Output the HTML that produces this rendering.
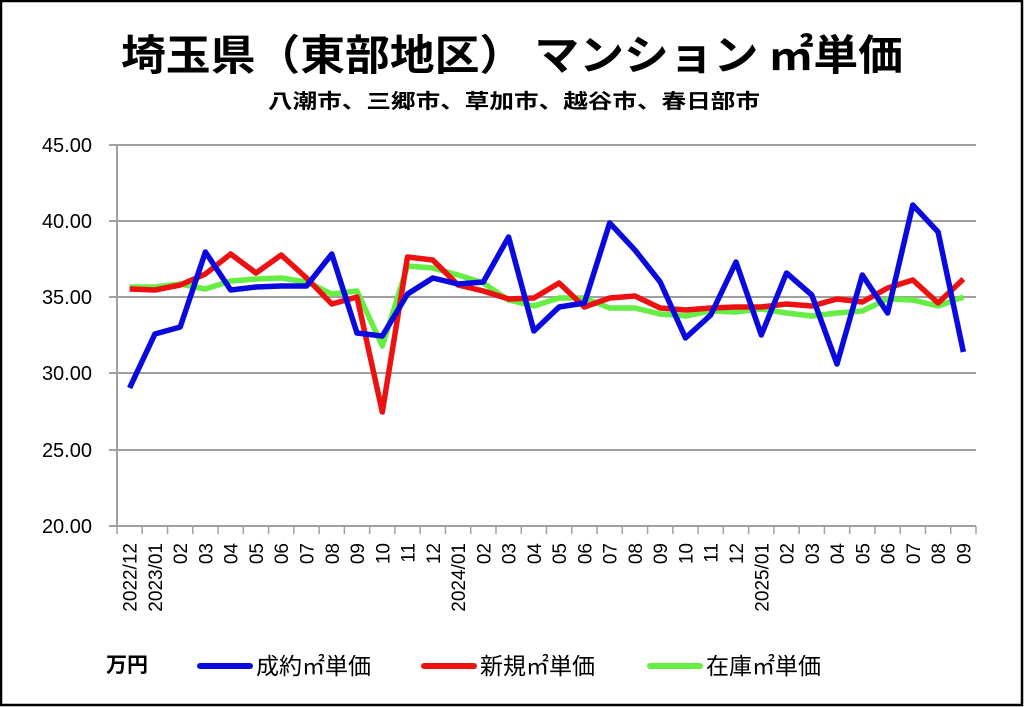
<!DOCTYPE html>
<html><head><meta charset="utf-8"><style>
html,body{margin:0;padding:0;background:#fff}
svg{display:block}
text{font-family:"Liberation Sans","Noto Sans CJK JP",sans-serif}
</style></head><body>
<svg width="1024" height="707" viewBox="0 0 1024 707" xmlns="http://www.w3.org/2000/svg">
<rect x="1" y="1" width="1021" height="704" fill="#fff" stroke="#000" stroke-width="2.5"/>
<text x="512" y="70" text-anchor="middle" font-size="42" font-weight="bold" style="font-family:'Noto Sans CJK JP',sans-serif" textLength="782" lengthAdjust="spacingAndGlyphs">埼玉県（東部地区） マンション ㎡単価</text>
<text x="514" y="108" text-anchor="middle" font-size="20" font-weight="bold" style="font-family:'Noto Sans CJK JP',sans-serif" textLength="492" lengthAdjust="spacingAndGlyphs">八潮市、三郷市、草加市、越谷市、春日部市</text>
<g stroke="#a0a0a0" stroke-width="2">
<line x1="109" y1="145" x2="976" y2="145"/>
<line x1="109" y1="221" x2="976" y2="221"/>
<line x1="109" y1="297" x2="976" y2="297"/>
<line x1="109" y1="373" x2="976" y2="373"/>
<line x1="109" y1="450" x2="976" y2="450"/>
<line x1="109" y1="526" x2="976" y2="526"/>
<line x1="117" y1="145" x2="117" y2="526"/>
</g>
<g font-size="20" text-anchor="end" fill="#000">
<text x="92" y="152">45.00</text>
<text x="92" y="228">40.00</text>
<text x="92" y="304">35.00</text>
<text x="92" y="380">30.00</text>
<text x="92" y="457">25.00</text>
<text x="92" y="533">20.00</text>
</g>
<g id="ticks" stroke="#a0a0a0" stroke-width="1.5"></g>
<g id="labels" font-size="19" fill="#000"></g>
<polyline id="g" fill="none" stroke="#66ee44" stroke-width="5.5" stroke-linejoin="round"/>
<polyline id="r" fill="none" stroke="#ee1111" stroke-width="5.5" stroke-linejoin="round"/>
<polyline id="b" fill="none" stroke="#0a0ae0" stroke-width="5.5" stroke-linejoin="round"/>
<text x="106" y="672" font-size="21" font-weight="bold" style="font-family:'Noto Sans CJK JP',sans-serif">万円</text>
<line x1="200" y1="666" x2="250" y2="666" stroke="#0a0ae0" stroke-width="6" stroke-linecap="round"/>
<text x="256" y="674" font-size="23" style="font-family:'Noto Sans CJK JP',sans-serif">成約㎡単価</text>
<line x1="424" y1="666" x2="474" y2="666" stroke="#ee1111" stroke-width="6" stroke-linecap="round"/>
<text x="480" y="674" font-size="23" style="font-family:'Noto Sans CJK JP',sans-serif">新規㎡単価</text>
<line x1="650" y1="666" x2="700" y2="666" stroke="#66ee44" stroke-width="6" stroke-linecap="round"/>
<text x="706" y="674" font-size="23" style="font-family:'Noto Sans CJK JP',sans-serif">在庫㎡単価</text>
</svg>
<script>
var B=[388,334,327,252,290,287,286,286,254,333,336,294,278,284,282,237,331,307,303,223,250,282,338,315,262,335,273,295,364,275,313,205,232,352];
var R=[289,290,285,274,254,273,255,278,304,297,412,257,260,285,291,299,298,283,307,298,296,308,310,308,307,307,304,306,299,302,288,280,303,279];
var G=[287,287,284,289,281,279,278,282,294,291,346,266,268,275,283,300,306,298,298,308,308,314,316,311,312,309,313,316,313,311,299,300,306,297];
var step=859/34;function X(i){return 117+step*(i+0.5);}
function pts(a){return a.map(function(y,i){return X(i).toFixed(1)+","+y}).join(" ");}
document.getElementById("b").setAttribute("points",pts(B));
document.getElementById("r").setAttribute("points",pts(R));
document.getElementById("g").setAttribute("points",pts(G));
var ns="http://www.w3.org/2000/svg";
var t=document.getElementById("ticks"),L=document.getElementById("labels");
for(var i=0;i<=34;i++){var l=document.createElementNS(ns,"line");var x=117+step*i;l.setAttribute("x1",x);l.setAttribute("x2",x);l.setAttribute("y1",526);l.setAttribute("y2",534);t.appendChild(l);}
var labs=["2022/12","2023/01","02","03","04","05","06","07","08","09","10","11","12","2024/01","02","03","04","05","06","07","08","09","10","11","12","2025/01","02","03","04","05","06","07","08","09"];
labs.forEach(function(s,i){var e=document.createElementNS(ns,"text");var x=X(i)+7;e.setAttribute("x",x);e.setAttribute("y",543);e.setAttribute("text-anchor","end");e.setAttribute("transform","rotate(-90 "+x+" 543)");e.textContent=s;L.appendChild(e);});
</script>
</body></html>
